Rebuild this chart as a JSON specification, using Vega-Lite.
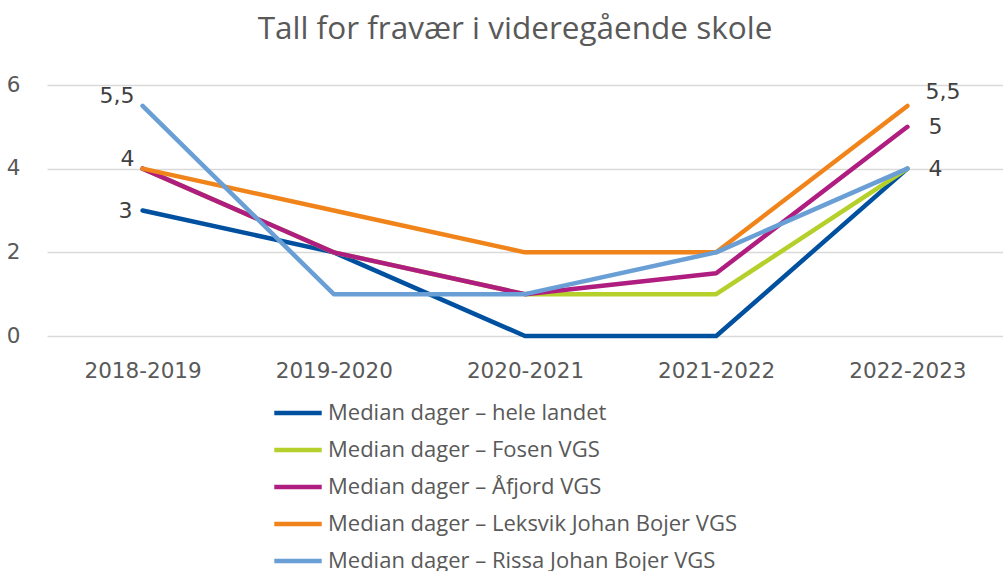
{
  "$schema": "https://vega.github.io/schema/vega-lite/v6.json",
  "autosize": {"type": "none"},
  "padding": {"left": 47, "top": 85, "right": 0, "bottom": 235},
  "width": 956,
  "height": 251,
  "title": {"text": "Tall for fravær i videregående skole", "fontSize": 31.5, "font": "Open Sans", "fontWeight": "normal", "color": "#595959", "offset": 29, "anchor": "middle", "dx": -10},
  "config": {
    "view": {"stroke": null},
    "font": "Open Sans",
    "locale": {"number": {"decimal": ",", "thousands": " ", "grouping": [3], "currency": ["", " kr"]}}
  },
  "datasets": {
    "main": [
      {"year": "2018-2019", "series": "Median dager – hele landet", "value": 3},
      {"year": "2019-2020", "series": "Median dager – hele landet", "value": 2},
      {"year": "2020-2021", "series": "Median dager – hele landet", "value": 0},
      {"year": "2021-2022", "series": "Median dager – hele landet", "value": 0},
      {"year": "2022-2023", "series": "Median dager – hele landet", "value": 4},
      {"year": "2018-2019", "series": "Median dager – Fosen VGS", "value": 4},
      {"year": "2019-2020", "series": "Median dager – Fosen VGS", "value": 2},
      {"year": "2020-2021", "series": "Median dager – Fosen VGS", "value": 1},
      {"year": "2021-2022", "series": "Median dager – Fosen VGS", "value": 1},
      {"year": "2022-2023", "series": "Median dager – Fosen VGS", "value": 4},
      {"year": "2018-2019", "series": "Median dager – Åfjord VGS", "value": 4},
      {"year": "2019-2020", "series": "Median dager – Åfjord VGS", "value": 2},
      {"year": "2020-2021", "series": "Median dager – Åfjord VGS", "value": 1},
      {"year": "2021-2022", "series": "Median dager – Åfjord VGS", "value": 1.5},
      {"year": "2022-2023", "series": "Median dager – Åfjord VGS", "value": 5},
      {"year": "2018-2019", "series": "Median dager – Leksvik Johan Bojer VGS", "value": 4},
      {"year": "2019-2020", "series": "Median dager – Leksvik Johan Bojer VGS", "value": 3},
      {"year": "2020-2021", "series": "Median dager – Leksvik Johan Bojer VGS", "value": 2},
      {"year": "2021-2022", "series": "Median dager – Leksvik Johan Bojer VGS", "value": 2},
      {"year": "2022-2023", "series": "Median dager – Leksvik Johan Bojer VGS", "value": 5.5},
      {"year": "2018-2019", "series": "Median dager – Rissa Johan Bojer VGS", "value": 5.5},
      {"year": "2019-2020", "series": "Median dager – Rissa Johan Bojer VGS", "value": 1},
      {"year": "2020-2021", "series": "Median dager – Rissa Johan Bojer VGS", "value": 1},
      {"year": "2021-2022", "series": "Median dager – Rissa Johan Bojer VGS", "value": 2},
      {"year": "2022-2023", "series": "Median dager – Rissa Johan Bojer VGS", "value": 4}
    ],
    "leftAbove": [
      {"year": "2018-2019", "value": 5.5},
      {"year": "2018-2019", "value": 4}
    ],
    "leftLevel": [
      {"year": "2018-2019", "value": 3}
    ],
    "rightAbove": [
      {"year": "2022-2023", "value": 5.5}
    ],
    "rightLevel": [
      {"year": "2022-2023", "value": 5},
      {"year": "2022-2023", "value": 4}
    ]
  },
  "encoding": {
    "x": {
      "field": "year", "type": "ordinal", "scale": {"type": "point", "padding": 0.5},
      "axis": {"title": null, "labelAngle": 0, "ticks": false, "domain": false, "labelFont": "DejaVu Sans", "labelFontSize": 21.5, "labelColor": "#595959", "labelPadding": 24, "grid": false}
    },
    "y": {
      "field": "value", "type": "quantitative", "scale": {"domain": [0, 6]},
      "axis": {"title": null, "values": [0, 2, 4, 6], "ticks": false, "domain": false, "labelFont": "DejaVu Sans", "labelFontSize": 21.5, "labelColor": "#595959", "labelPadding": 27, "gridColor": "#d9d9d9", "gridWidth": 1.5, "format": "d"}
    }
  },
  "layer": [
    {
      "data": {"name": "main"},
      "mark": {"type": "line", "strokeWidth": 4.5, "strokeCap": "round", "strokeJoin": "round"},
      "encoding": {
        "color": {
          "field": "series", "type": "nominal",
          "scale": {
            "domain": ["Median dager – hele landet", "Median dager – Fosen VGS", "Median dager – Åfjord VGS", "Median dager – Leksvik Johan Bojer VGS", "Median dager – Rissa Johan Bojer VGS"],
            "range": ["#0050a0", "#b5cf2b", "#b01d80", "#f0841a", "#6a9fd6"]
          },
          "legend": {
            "title": null, "orient": "none", "legendX": 225, "legendY": 302, "direction": "vertical",
            "symbolType": "stroke", "symbolSize": 2250, "symbolStrokeWidth": 4.5,
            "labelFontSize": 22, "labelColor": "#595959", "rowPadding": 0, "labelOffset": 4, "labelLimit": 600
          }
        },
        "order": {"field": "year"}
      }
    },
    {
      "data": {"name": "leftAbove"},
      "mark": {"type": "text", "font": "DejaVu Sans", "align": "right", "baseline": "middle", "dx": -8, "dy": -10, "fontSize": 22, "color": "#404040"},
      "encoding": {"text": {"field": "value", "type": "quantitative"}}
    },
    {
      "data": {"name": "leftLevel"},
      "mark": {"type": "text", "font": "DejaVu Sans", "align": "right", "baseline": "middle", "dx": -10, "dy": 0, "fontSize": 22, "color": "#404040"},
      "encoding": {"text": {"field": "value", "type": "quantitative"}}
    },
    {
      "data": {"name": "rightAbove"},
      "mark": {"type": "text", "font": "DejaVu Sans", "align": "left", "baseline": "middle", "dx": 18, "dy": -14, "fontSize": 22, "color": "#404040"},
      "encoding": {"text": {"field": "value", "type": "quantitative"}}
    },
    {
      "data": {"name": "rightLevel"},
      "mark": {"type": "text", "font": "DejaVu Sans", "align": "left", "baseline": "middle", "dx": 21, "dy": 0, "fontSize": 22, "color": "#404040"},
      "encoding": {"text": {"field": "value", "type": "quantitative"}}
    }
  ]
}
